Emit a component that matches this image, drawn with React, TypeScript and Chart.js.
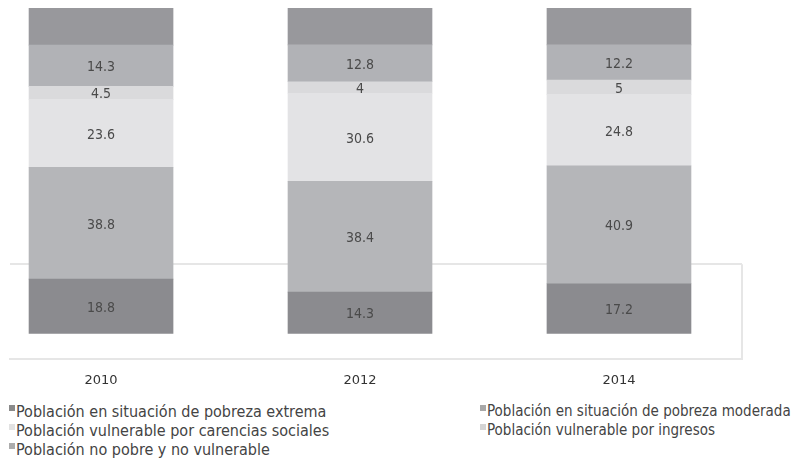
import React, { useEffect, useRef } from "react";
import { Chart, registerables } from "chart.js";

Chart.register(...registerables);

const years = [2010, 2012, 2014];
const extrema = [18.8, 14.3, 17.2];
const moderada = [38.8, 38.4, 40.9];
const carencias = [23.6, 30.6, 24.8];
const ingresos = [4.5, 4, 5];
const noPobre = [14.3, 12.8, 12.2];
const topBand = [12.9, 12.9, 12.9];

const seriesNames = [
  "Población en situación de pobreza extrema",
  "Población en situación de pobreza moderada",
  "Población vulnerable por carencias sociales",
  "Población vulnerable por ingresos",
  "Población no pobre y no vulnerable",
];
const seriesColors = ["#8b8b8f", "#b5b6b9", "#e3e3e5", "#dadadc", "#b1b2b6"];
const topColor = "#98989c";
const legendColors = ["#8a8a8a", "#a8a8a8", "#e2e2e2", "#d4d4d4", "#acacac"];
const gridValue = 24;

const labelPlugin = {
  id: "segLabels",
  afterDatasetsDraw(chart: any) {
    const ctx = chart.ctx;
    ctx.save();
    ctx.font = "14px 'Liberation Sans Narrow', 'DejaVu Sans Condensed', sans-serif";
    ctx.fillStyle = "#4a4a4a";
    ctx.textAlign = "center";
    ctx.textBaseline = "middle";
    chart.data.datasets.forEach((ds: any, di: number) => {
      if (ds.noLabel) return;
      const meta = chart.getDatasetMeta(di);
      meta.data.forEach((el: any, i: number) => {
        const p = el.getProps(["x", "y", "base"], true);
        ctx.fillText(String(ds.data[i].y), p.x, (p.y + p.base) / 2 + 2);
      });
    });
    ctx.restore();
  },
};

const framePlugin = {
  id: "frameLine",
  afterDraw(chart: any) {
    const { ctx, chartArea, scales } = chart;
    const y0 = scales.y.getPixelForValue(gridValue);
    ctx.save();
    ctx.strokeStyle = "#e6e6e6";
    ctx.lineWidth = 2;
    ctx.beginPath();
    ctx.moveTo(chartArea.right, y0);
    ctx.lineTo(chartArea.right, chartArea.bottom);
    ctx.stroke();
    ctx.restore();
  },
};

export default function App() {
  const ref = useRef<HTMLCanvasElement>(null);
  useEffect(() => {
    if (!ref.current) return;
    const mk = (arr: number[]) => arr.map((v, i) => ({ x: years[i], y: v }));
    const allSeries = [extrema, moderada, carencias, ingresos, noPobre];
    const datasets: any[] = allSeries.map((arr, i) => ({
      label: seriesNames[i],
      data: mk(arr),
      backgroundColor: seriesColors[i],
      barThickness: 144,
      borderWidth: 0,
    }));
    datasets.push({
      label: "",
      data: mk(topBand),
      backgroundColor: topColor,
      barThickness: 144,
      borderWidth: 0,
      noLabel: true,
    });
    const chart = new Chart(ref.current, {
      type: "bar",
      data: { datasets },
      options: {
        animation: false,
        responsive: false,
        maintainAspectRatio: false,
        layout: { padding: { left: 10, right: 50, top: 8, bottom: 0 } },
        plugins: { legend: { display: false }, tooltip: { enabled: false } },
        scales: {
          x: {
            type: "linear",
            stacked: true,
            offset: false,
            min: 2009.297,
            max: 2014.95,
            afterBuildTicks: (s: any) => {
              s.ticks = years.map((v) => ({ value: v }));
            },
            grid: { display: false, offset: false, drawTicks: false },
            border: { display: true, color: "#e6e6e6", width: 2 },
            ticks: {
              padding: 13,
              color: "#333333",
              font: { family: "'DejaVu Sans', sans-serif", size: 13 },
              callback: (v: any) => String(v),
              autoSkip: false,
              maxRotation: 0,
            },
          },
          y: {
            stacked: true,
            min: -9.06,
            max: 112.9,
            afterBuildTicks: (s: any) => {
              s.ticks = [{ value: gridValue }];
            },
            grid: { color: "#e6e6e6", lineWidth: 2, drawTicks: false },
            border: { display: false },
            ticks: { display: false },
          },
        },
      },
      plugins: [labelPlugin, framePlugin],
    } as any);
    return () => chart.destroy();
  }, []);

  const legendPos = [
    { x: 9, y: 411, size: 16 },
    { x: 480, y: 411, size: 15 },
    { x: 9, y: 430, size: 16 },
    { x: 480, y: 430, size: 15 },
    { x: 9, y: 449, size: 16 },
  ];

  return (
    <div style={{ position: "fixed", left: 0, top: 0, width: 792, height: 472, background: "#fff", overflow: "hidden" }}>
      <canvas ref={ref} width={792} height={401} style={{ position: "absolute", left: 0, top: 0, width: 792, height: 401 }} />
      {seriesNames.map((name, i) => (
        <div
          key={name}
          style={{
            position: "absolute",
            left: legendPos[i].x,
            top: legendPos[i].y - 10,
            height: 20,
            display: "flex",
            alignItems: "center",
            fontFamily: "'Liberation Sans Narrow', 'DejaVu Sans Condensed', sans-serif",
            fontSize: legendPos[i].size,
            color: "#444",
            whiteSpace: "nowrap",
          }}
        >
          <span style={{ display: "inline-block", width: 6, height: 6, background: legendColors[i], marginRight: 1, alignSelf: "flex-start", marginTop: 4 }} />
          <span>{name}</span>
        </div>
      ))}
    </div>
  );
}
